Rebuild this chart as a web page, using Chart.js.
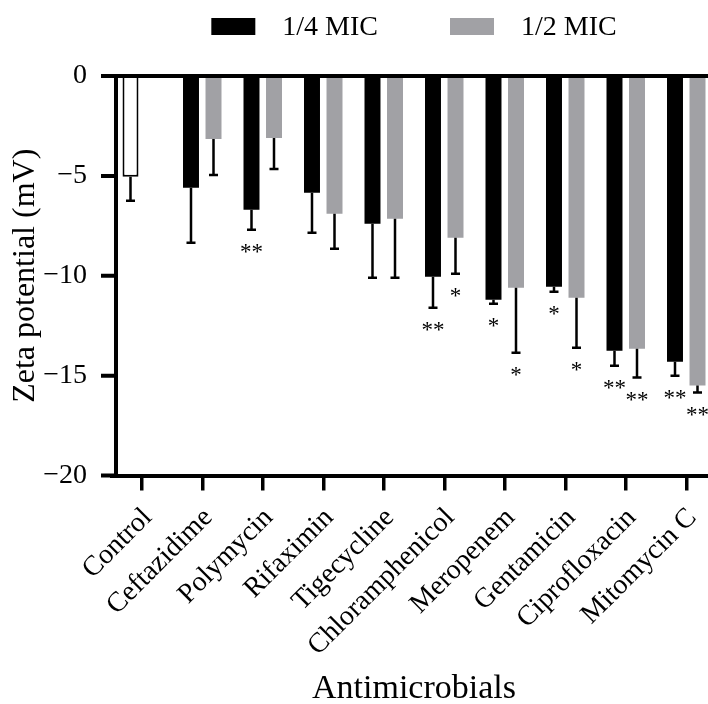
<!DOCTYPE html>
<html>
<head>
<meta charset="utf-8">
<script src="https://cdn.jsdelivr.net/npm/chart.js@4.4.1/dist/chart.umd.min.js"></script>
<style>
  html, body { margin: 0; padding: 0; background: #fff; overflow: hidden; }
  canvas { display: block; }
</style>
</head>
<body>
<canvas id="chart" width="730" height="704"></canvas>
<script>
// Data (zeta potential, mV)
const categories = ['Control', 'Ceftazidime', 'Polymycin', 'Rifaximin', 'Tigecycline',
    'Chloramphenicol', 'Meropenem', 'Gentamicin', 'Ciprofloxacin', 'Mitomycin C'];
const seriesNames = ['1/4 MIC', '1/2 MIC'];
const quarterMIC = [-5.05, -5.6, -6.7, -5.85, -7.4, -10.05, -11.2, -10.55, -13.75, -14.3];
const quarterErr = [1.2, 2.75, 1.0, 2.0, 2.7, 1.55, 0.2, 0.25, 0.75, 0.7];
const halfMIC = [null, -3.15, -3.1, -6.9, -7.15, -8.1, -10.6, -11.1, -13.65, -15.5];
const halfErr = [null, 1.8, 1.55, 1.75, 2.95, 1.8, 3.25, 2.5, 1.45, 0.35];
const quarterSig = ['', '', '**', '', '', '**', '*', '*', '**', '**'];
const halfSig = ['', '', '', '', '', '*', '*', '*', '**', '**'];
const yMin = -20, yMax = 0, yStep = 5;

const serif = '"Liberation Serif", "Times New Roman", serif';
const quarterColor = '#000000';
const halfColor = '#a1a1a5';

Chart.defaults.font.family = serif;
Chart.defaults.color = '#000';

// error bars (downwards only) + significance stars
const errorBars = {
    id: 'errorBars',
    afterDatasetsDraw(chart) {
        const ctx = chart.ctx;
        const y = chart.scales.y;
        const errs = [quarterErr, halfErr];
        const sigs = [quarterSig, halfSig];
        chart.data.datasets.forEach((ds, d) => {
            const meta = chart.getDatasetMeta(d);
            meta.data.forEach((bar, i) => {
                const v = ds.data[i];
                if (v == null) return;
                const yEnd = y.getPixelForValue(v - errs[d][i]);
                ctx.save();
                ctx.strokeStyle = '#000';
                ctx.lineWidth = 2.5;
                ctx.beginPath();
                ctx.moveTo(bar.x, bar.y);
                ctx.lineTo(bar.x, yEnd);
                ctx.moveTo(bar.x - 4.5, yEnd);
                ctx.lineTo(bar.x + 4.5, yEnd);
                ctx.stroke();
                if (sigs[d][i]) {
                    ctx.fillStyle = '#000';
                    ctx.font = '23px ' + serif;
                    ctx.textAlign = 'center';
                    ctx.textBaseline = 'alphabetic';
                    ctx.fillText(sigs[d][i], bar.x, yEnd + 29);
                }
                ctx.restore();
            });
        });
    }
};

// y axis line, its ticks and the zero line (axis sits a bit right of the first category edge)
const axisLines = {
    id: 'axisLines',
    afterDraw(chart) {
        const {ctx, chartArea: a, scales: {y}} = chart;
        const ax = a.left + 4.5;
        ctx.save();
        ctx.strokeStyle = '#000';
        ctx.lineWidth = 4;
        ctx.beginPath();
        ctx.moveTo(ax, y.getPixelForValue(yMax) - 2);
        ctx.lineTo(ax, y.getPixelForValue(yMin) + 2);
        y.ticks.forEach(t => {
            const py = y.getPixelForValue(t.value);
            ctx.moveTo(ax - 15, py);
            ctx.lineTo(ax, py);
        });
        const p0 = y.getPixelForValue(0);
        ctx.moveTo(ax, p0);
        ctx.lineTo(a.right, p0);
        ctx.stroke();
        ctx.restore();
    }
};

// legend on top, centred over the plot
const topLegend = {
    id: 'topLegend',
    afterDraw(chart) {
        const ctx = chart.ctx;
        const colors = [quarterColor, halfColor];
        const boxW = 44, boxH = 17, gap = 27, itemGap = 72, cy = 26.5;
        ctx.save();
        ctx.font = '28px ' + serif;
        ctx.textBaseline = 'middle';
        ctx.fillStyle = '#000';
        const widths = seriesNames.map(s => ctx.measureText(s).width);
        let total = widths.reduce((s, w) => s + boxW + gap + w, 0) + itemGap * (seriesNames.length - 1);
        let x = 414 - total / 2;
        seriesNames.forEach((s, i) => {
            ctx.fillStyle = colors[i];
            ctx.fillRect(x, cy - boxH / 2, boxW, boxH);
            ctx.fillStyle = '#000';
            ctx.fillText(s, x + boxW + gap, cy + 1);
            x += boxW + gap + widths[i] + itemGap;
        });
        ctx.restore();
    }
};

new Chart(document.getElementById('chart'), {
    type: 'bar',
    data: {
        labels: categories,
        datasets: [
            {
                label: seriesNames[0],
                data: quarterMIC,
                backgroundColor: categories.map((c, i) => i === 0 ? '#ffffff' : quarterColor),
                borderColor: '#000',
                borderWidth: categories.map((c, i) => i === 0 ? 2 : 0),
                borderSkipped: false,
                categoryPercentage: 0.744,
                barPercentage: 0.71
            },
            {
                label: seriesNames[1],
                data: halfMIC,
                backgroundColor: halfColor,
                borderWidth: 0,
                categoryPercentage: 0.744,
                barPercentage: 0.71
            }
        ]
    },
    options: {
        responsive: false,
        devicePixelRatio: 1,
        animation: false,
        layout: { padding: { top: 76, right: 13.5, left: 0, bottom: 0 } },
        plugins: {
            legend: { display: false },
            tooltip: { enabled: false }
        },
        scales: {
            x: {
                grid: {
                    display: true,
                    drawOnChartArea: false,
                    drawTicks: true,
                    tickLength: 15,
                    lineWidth: 3.5,
                    color: '#000',
                    offset: false
                },
                border: { display: true, width: 4, color: '#000' },
                ticks: {
                    autoSkip: false,
                    minRotation: 45,
                    maxRotation: 45,
                    labelOffset: 6,
                    padding: 11,
                    font: { size: 28 }
                },
                title: {
                    display: true,
                    text: 'Antimicrobials',
                    font: { size: 34, lineHeight: 0.85 },
                    padding: 0
                },
                afterFit(scale) { scale.height = 228.5; }
            },
            y: {
                min: yMin,
                max: yMax,
                grid: { display: false },
                border: { display: false },
                ticks: {
                    stepSize: yStep,
                    padding: 16.5,
                    font: { size: 28 },
                    callback: v => v < 0 ? '\u2212' + Math.abs(v) : String(v)
                },
                title: {
                    display: true,
                    text: 'Zeta potential (mV)',
                    font: { size: 32 },
                    padding: { top: 6, bottom: 0 }
                },
                afterFit(scale) { scale.width = 111.5; }
            }
        }
    },
    plugins: [errorBars, axisLines, topLegend]
});
</script>
</body>
</html>
